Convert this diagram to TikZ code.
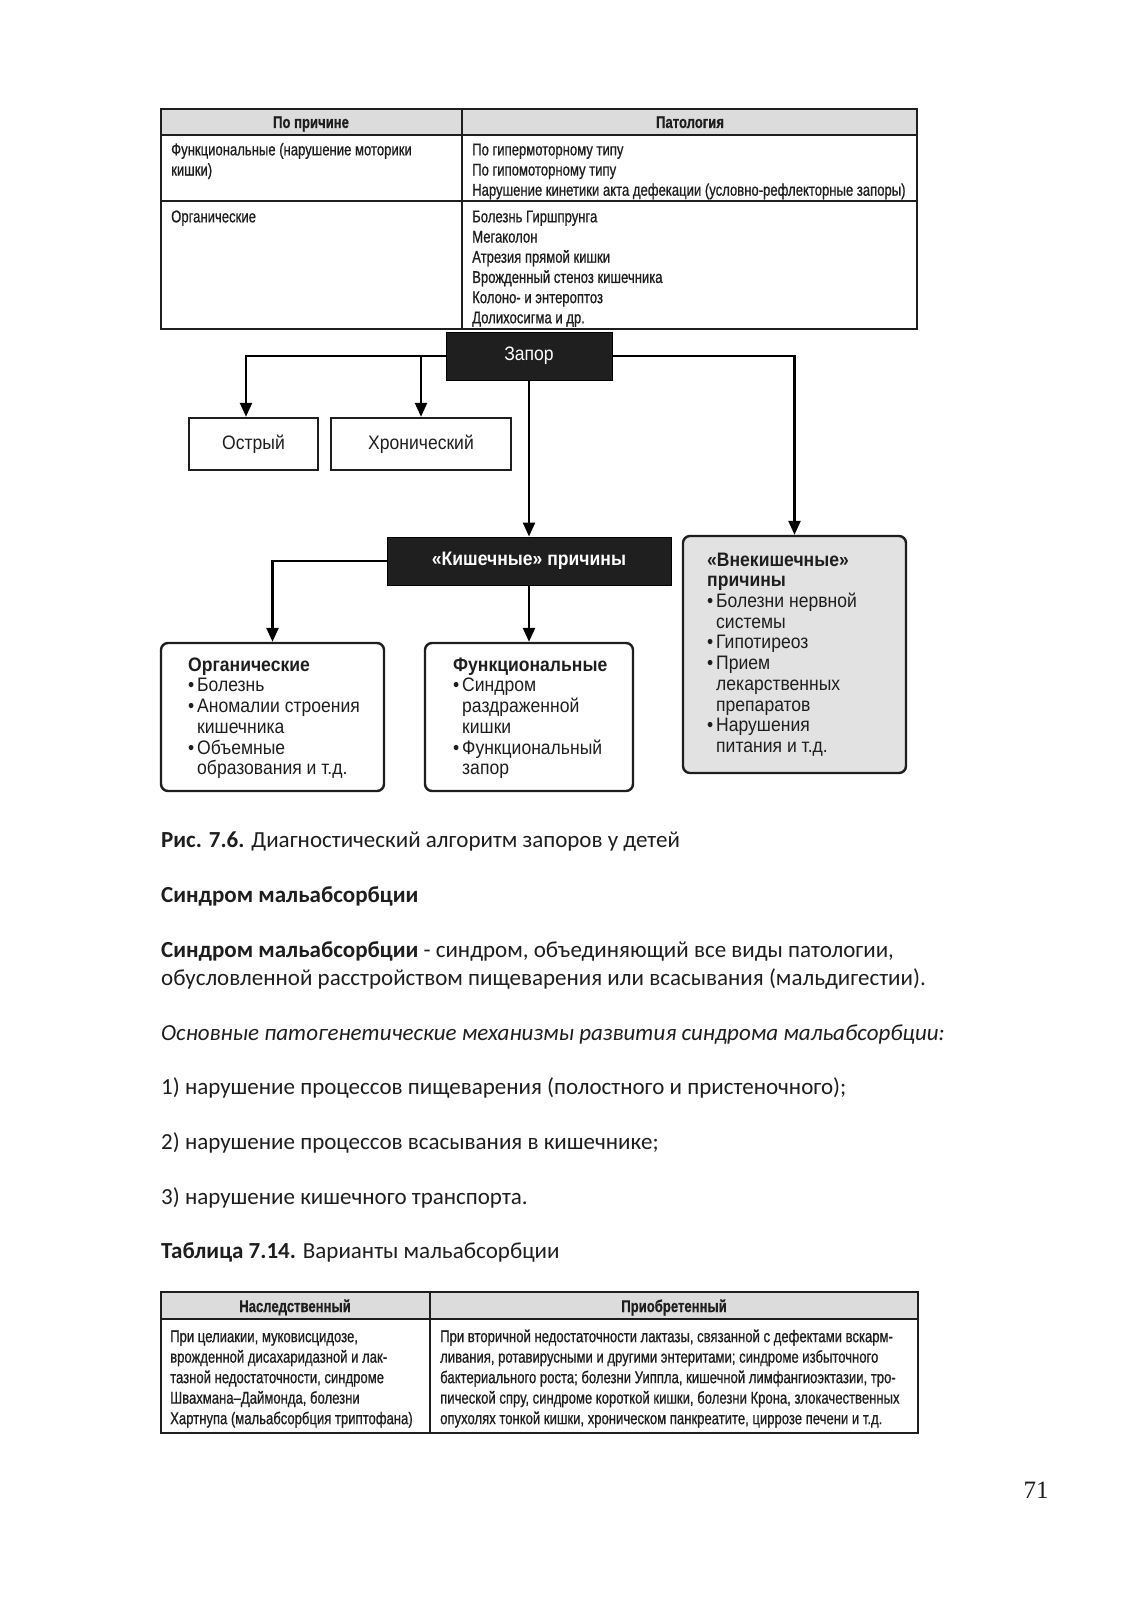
\documentclass[tikz,border=0pt]{standalone}
\usepackage{fontspec}
\setmainfont{Carlito}
\newfontfamily\tabfont[FakeStretch=0.77, FakeBold=0.7]{Liberation Sans}
\newfontfamily\boxfont[FakeStretch=0.9]{Liberation Sans}
\newfontfamily\pgnumfont{Liberation Serif}
\usetikzlibrary{arrows.meta}
\definecolor{hdrgray}{RGB}{220,220,220}
\definecolor{boxgray}{RGB}{226,226,226}
\definecolor{ink}{RGB}{30,30,30}
\newcommand{\bul}{\makebox[9pt][l]{\textbullet}}
\newcommand{\bulsp}{\hspace*{9pt}}
\begin{document}
\begin{tikzpicture}[x=1pt,y=-1pt,
  tabtxt/.style={font=\tabfont\fontsize{17}{20.2}\selectfont, text=ink, align=left, inner sep=0pt, anchor=north west},
  tabhdr/.style={font=\tabfont\bfseries\fontsize{17}{20.2}\selectfont, text=ink, inner sep=0pt, anchor=base},
  gridline/.style={line width=1.5pt, draw=ink},
  frameline/.style={line width=2.2pt, draw=ink},
  darkbox/.style={fill=black!88, draw=black, line width=1pt, text=white, font=\boxfont\fontsize{19.5}{20.7}\selectfont, inner sep=0pt},
  plainbox/.style={draw=ink, line width=2.4pt, fill=white, text=ink, font=\boxfont\fontsize{19.5}{20.7}\selectfont, inner sep=0pt},
  roundbox/.style={draw=ink, line width=2.4pt, rounded corners=7pt, inner sep=0pt},
  boxtxt/.style={font=\boxfont\fontsize{19.5}{20.7}\selectfont, text=ink, align=left, inner sep=0pt, anchor=north west},
  arrow/.style={line width=2.4pt, draw=black, -{Triangle[length=14pt,width=12pt]}},
  body/.style={font=\fontsize{23}{27}\selectfont, text=ink, inner sep=0pt, anchor=base west},
]
\useasboundingbox[fill=white] (0,0) rectangle (1132,1600);

% ---------- top table ----------
\fill[hdrgray] (161,109) rectangle (917,135);
\draw[gridline] (161,135) -- (917,135);
\draw[gridline] (161,201) -- (917,201);
\draw[gridline] (462,109) -- (462,329);
\draw[frameline] (161,109) rectangle (917,329);
\node[tabhdr] (th1) at (311,128) {По причине};
\node[tabhdr] (th2) at (690,128) {Патология};
\node[tabtxt] (t11) at (171,141) {\strut Функциональные (нарушение моторики\\кишки)};
\node[tabtxt] (t12) at (472,141) {\strut По гипермоторному типу\\По гипомоторному типу\\Нарушение кинетики акта дефекации (условно-рефлекторные запоры)};
\node[tabtxt] (t21) at (171,208) {\strut Органические};
\node[tabtxt] (t22) at (472,208) {\strut Болезнь Гиршпрунга\\Мегаколон\\Атрезия прямой кишки\\Врожденный стеноз кишечника\\Колоно- и энтероптоз\\Долихосигма и др.};

% ---------- flowchart ----------
\node[darkbox, minimum width=166pt, minimum height=48pt] (zapor) at (529,356) {Запор};
\node[plainbox, minimum width=129pt, minimum height=52pt] (ostr) at (253.5,444) {Острый};
\node[plainbox, minimum width=180pt, minimum height=52pt] (hron) at (421,444) {Хронический};
\node[darkbox, minimum width=284pt, minimum height=48pt, font=\boxfont\bfseries\fontsize{19.5}{20.7}\selectfont] (kish) at (529,561) {«Кишечные» причины};
\node[roundbox, fill=boxgray, minimum width=223pt, minimum height=237pt] (vnek) at (794.5,654.5) {};
\node[roundbox, fill=white, minimum width=223pt, minimum height=148pt] (org) at (272.5,717) {};
\node[roundbox, fill=white, minimum width=208pt, minimum height=148pt] (func) at (529,717) {};

\node[boxtxt] (vnektxt) at (707,551.5) {\strut\bfseries «Внекишечные»\\\bfseries причины\\\bul Болезни нервной\\\bulsp системы\\\bul Гипотиреоз\\\bul Прием\\\bulsp лекарственных\\\bulsp препаратов\\\bul Нарушения\\\bulsp питания и т.д.};
\node[boxtxt] (orgtxt) at (188,656.5) {\strut\bfseries Органические\\\bul Болезнь\\\bul Аномалии строения\\\bulsp кишечника\\\bul Объемные\\\bulsp образования и т.д.};
\node[boxtxt] (functxt) at (453,656.5) {\strut\bfseries Функциональные\\\bul Синдром\\\bulsp раздраженной\\\bulsp кишки\\\bul Функциональный\\\bulsp запор};

\draw[arrow] (zapor.west) -| ([xshift=-7.5pt]ostr.north);
\draw[arrow] (hron.north |- zapor.west) -- (hron.north);
\draw[arrow] (zapor.east) -| (vnek.north);
\draw[arrow] (zapor.south) -- (kish.north);
\draw[arrow] (kish.west) -| (org.north);
\draw[arrow] (kish.south) -- (func.north);

% ---------- body text ----------
\node[body] (cap) at (161,847) {\textbf{Рис. 7.6.} Диагностический алгоритм запоров у детей};
\node[body] (head) at (161,902) {\textbf{Синдром мальабсорбции}};
\node[body] (def1) at (161,957) {\textbf{Синдром мальабсорбции} - синдром, объединяющий все виды патологии,};
\node[body] (def2) at (161,985) {обусловленной расстройством пищеварения или всасывания (мальдигестии).};
\node[body] (mech) at (161,1040) {\itshape Основные патогенетические механизмы развития синдрома мальабсорбции:};
\node[body] (m1) at (161,1094) {1) нарушение процессов пищеварения (полостного и пристеночного);};
\node[body] (m2) at (161,1149) {2) нарушение процессов всасывания в кишечнике;};
\node[body] (m3) at (161,1204) {3) нарушение кишечного транспорта.};
\node[body] (tcap) at (161,1258) {\textbf{Таблица 7.14.} Варианты мальабсорбции};

% ---------- bottom table ----------
\fill[hdrgray] (161,1292) rectangle (918,1319);
\draw[gridline] (161,1319) -- (918,1319);
\draw[gridline] (430,1292) -- (430,1433);
\draw[frameline] (161,1292) rectangle (918,1433);
\node[tabhdr] (bh1) at (295,1312) {Наследственный};
\node[tabhdr] (bh2) at (674,1312) {Приобретенный};
\node[tabtxt, font=\tabfont\fontsize{17}{20.5}\selectfont] (b1) at (170,1327.6) {\strut При целиакии, муковисцидозе,\\врожденной дисахаридазной и лак-\\тазной недостаточности, синдроме\\Швахмана–Даймонда, болезни\\Хартнупа (мальабсорбция триптофана)};
\node[tabtxt, font=\tabfont\fontsize{17}{20.5}\selectfont] (b2) at (440,1327.6) {\strut При вторичной недостаточности лактазы, связанной с дефектами вскарм-\\ливания, ротавирусными и другими энтеритами; синдроме избыточного\\бактериального роста; болезни Уиппла, кишечной лимфангиоэктазии, тро-\\пической спру, синдроме короткой кишки, болезни Крона, злокачественных\\опухолях тонкой кишки, хроническом панкреатите, циррозе печени и т.д.};

% ---------- page number ----------
\node[font=\pgnumfont\fontsize{25}{30}\selectfont, text=ink, inner sep=0pt, anchor=base] (pg) at (1036,1498) {71};
\end{tikzpicture}
\end{document}
